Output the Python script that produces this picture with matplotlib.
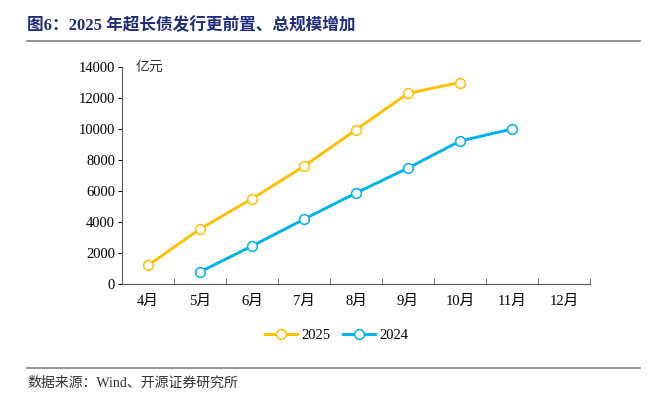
import numpy as np
import matplotlib
matplotlib.use("Agg")
from matplotlib import pyplot as plt
from matplotlib.lines import Line2D

plt.rcParams['font.family'] = ['Liberation Serif', 'Noto Sans CJK SC']

months = ['4月', '5月', '6月', '7月', '8月', '9月', '10月', '11月', '12月']
idx_2025 = [0, 1, 2, 3, 4, 5, 6]
val_2025 = [1200, 3550, 5500, 7600, 9950, 12300, 13000]
idx_2024 = [1, 2, 3, 4, 5, 6, 7]
val_2024 = [780, 2450, 4180, 5870, 7480, 9220, 10000]

c25 = '#FFC000'
c24 = '#00B0F0'

fig = plt.figure(figsize=(6.58, 3.96), dpi=100)
ax = fig.add_axes([0.1854, 0.2828, 0.7112, 0.548])

ax.plot(idx_2025, val_2025, color=c25, lw=2.1, marker='o', ms=7,
        mfc='white', mec=c25, mew=1.1, label='2025')
ax.plot(idx_2024, val_2024, color=c24, lw=2.1, marker='o', ms=7,
        mfc='white', mec=c24, mew=1.1, label='2024')

ax.set_xlim(-0.5, len(months) - 0.5)
ax.set_ylim(0, 14000)
ax.set_yticks(np.arange(0, 14001, 2000))
ax.tick_params(axis='y', labelsize=10.5, length=3, direction='out', pad=2)
ax.set_xticks(np.arange(len(months)))
ax.set_xticklabels(months, fontsize=10.5)
ax.set_xticks(np.arange(-0.5, len(months), 1), minor=True)
ax.tick_params(axis='x', which='major', length=0, pad=8)
ax.tick_params(axis='x', which='minor', length=4, direction='in', color='#595959')
ax.spines['top'].set_visible(False)
ax.spines['right'].set_visible(False)
ax.spines['left'].set_color('#595959')
ax.spines['bottom'].set_color('#595959')

ax.text(0.03, 1.0, '亿元', transform=ax.transAxes, fontsize=10,
        ha='left', va='center', color='#333333')

ax.legend(loc='center', bbox_to_anchor=(0.459, -0.235), ncol=2,
          frameon=False, fontsize=10.5, handlelength=2.2, columnspacing=0.9,
          handletextpad=0.3)

fig.text(0.041, 0.935, '图6：2025 年超长债发行更前置、总规模增加', fontsize=12,
         fontweight='bold', color='#1F2D7A', ha='left', va='center')
fig.add_artist(Line2D([0.041, 0.973], [0.897, 0.897], color='#7F7F7F', lw=1.2))
fig.add_artist(Line2D([0.041, 0.973], [0.071, 0.071], color='#7F7F7F', lw=1.2))
fig.text(0.041, 0.033, '数据来源：Wind、开源证券研究所', fontsize=10,
         color='#333333', ha='left', va='center')

fig.savefig('out.png', dpi=100)
